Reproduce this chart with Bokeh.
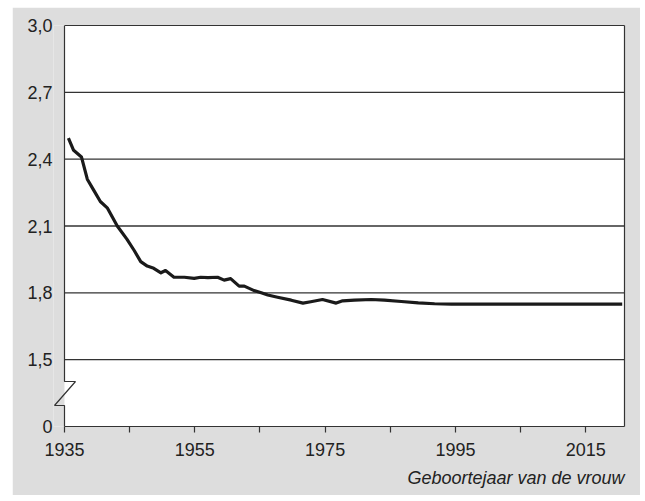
from bokeh.plotting import figure
from bokeh.models import Range1d, FixedTicker, LinearAxis, Title
from bokeh.embed import file_html
from bokeh.resources import INLINE

# ---- data ----
years = [1935.6, 1936.4, 1937.6, 1938.5, 1939.5, 1940.5, 1941.6, 1943.1, 1944.6,
         1945.7, 1946.7, 1947.7, 1948.7, 1949.8, 1950.5, 1951.8, 1953.4, 1954.9,
         1955.9, 1957.0, 1958.5, 1959.5, 1960.5, 1961.8, 1962.6, 1964.1, 1965.2,
         1966.2, 1967.7, 1969.8, 1971.6, 1972.8, 1974.6, 1976.7, 1977.7, 1979.5,
         1982.1, 1984.1, 1986.7, 1989.3, 1991.8, 1994.4, 2000.0, 2010.0, 2020.6]
tfr = [2.495, 2.44, 2.41, 2.31, 2.26, 2.21, 2.18, 2.10, 2.04,
       1.99, 1.94, 1.92, 1.91, 1.89, 1.90, 1.87, 1.87, 1.865,
       1.87, 1.868, 1.87, 1.857, 1.864, 1.83, 1.83, 1.81, 1.80,
       1.79, 1.78, 1.767, 1.754, 1.76, 1.77, 1.754, 1.764, 1.767,
       1.77, 1.767, 1.761, 1.755, 1.751, 1.749, 1.749, 1.749, 1.749]

x_ticks = [1935, 1945, 1955, 1965, 1975, 1985, 1995, 2005, 2015]
x_tick_labels = ["1935", "", "1955", "", "1975", "", "1995", "", "2015"]
y_ticks = [1.2, 1.5, 1.8, 2.1, 2.4, 2.7, 3.0]
y_tick_labels = ["0", "1,5", "1,8", "2,1", "2,4", "2,7", "3,0"]
grid_values = [1.5, 1.8, 2.1, 2.4, 2.7]
x_title = "Geboortejaar van de vrouw"

# ---- layout constants ----
X0, X1 = 1935, 2020.95
Y0, Y1 = 1.2, 3.0
PX_PER_YEAR = 6.516
PX_PER_UNIT = 222.8
XSTART = X0 - 11 / PX_PER_YEAR
GRAY = "#dddddd"
INK = "#222222"
FONT = "Liberation Sans"

p = figure(width=628, height=488,
           x_range=Range1d(XSTART, X1), y_range=Range1d(Y0, Y1),
           output_backend="svg", toolbar_location=None,
           min_border_left=41, min_border_right=16,
           min_border_top=18, min_border_bottom=69)
p.margin = (7, 0, 0, 12)
p.background_fill_color = GRAY
p.border_fill_color = GRAY
p.outline_line_color = None
p.xgrid.visible = False
p.ygrid.visible = False

# white plotting area
p.quad(left=[X0], right=[X1], bottom=[Y0], top=[Y1], fill_color="white", line_color=None)

# horizontal gridlines
p.segment(x0=[X0] * len(grid_values), x1=[X1] * len(grid_values),
          y0=grid_values, y1=grid_values, line_color="#333333", line_width=1.3)

# left axis line with break symbol
b_hi = Y0 + 45 / PX_PER_UNIT
b_lo = Y0 + 21 / PX_PER_UNIT
p.line(x=[X0, X0, X0 + 11 / PX_PER_YEAR, X0 - 10 / PX_PER_YEAR, X0, X0],
       y=[Y1, b_hi, b_hi, b_lo, b_lo, Y0], line_color="#333333", line_width=1.2)

# data line
p.line(years, tfr, line_width=3.2, line_color="#1a1a1a", line_join="round")

# bottom axis
xa = p.xaxis[0]
xa.ticker = FixedTicker(ticks=x_ticks)
xa.major_label_overrides = {t: l for t, l in zip(x_ticks, x_tick_labels)}
xa.bounds = (X0, X1)
xa.axis_line_color = "#333333"
xa.axis_line_width = 1.2
xa.major_tick_in = 0
xa.major_tick_out = 6
xa.major_tick_line_color = "#333333"
xa.major_tick_line_width = 1.2
xa.minor_tick_line_color = None
xa.major_label_standoff = 10
xa.major_label_text_font = FONT
xa.major_label_text_font_size = "18px"
xa.major_label_text_color = INK

# left axis (labels only)
ya = p.yaxis[0]
ya.ticker = FixedTicker(ticks=y_ticks)
ya.major_label_overrides = {t: l for t, l in zip(y_ticks, y_tick_labels)}
ya.axis_line_color = None
ya.major_tick_line_color = None
ya.minor_tick_line_color = None
ya.major_tick_in = 0
ya.major_tick_out = 0
ya.major_label_standoff = 1
ya.major_label_text_font = FONT
ya.major_label_text_font_size = "18px"
ya.major_label_text_color = INK

# top and right border lines
top = LinearAxis(ticker=FixedTicker(ticks=[]), bounds=(X0, X1),
                 axis_line_color="#333333", axis_line_width=1.2,
                 major_tick_line_color=None, minor_tick_line_color=None)
p.add_layout(top, "above")
right = LinearAxis(ticker=FixedTicker(ticks=[]),
                   axis_line_color="#333333", axis_line_width=1.2,
                   major_tick_line_color=None, minor_tick_line_color=None)
p.add_layout(right, "right")

# x-axis title, right aligned
p.add_layout(Title(text=x_title, align="right", text_font_style="italic",
                   text_font=FONT, text_font_size="18px", text_color=INK,
                   standoff=15), "below")

open("out.html", "w").write(file_html(p, INLINE))
